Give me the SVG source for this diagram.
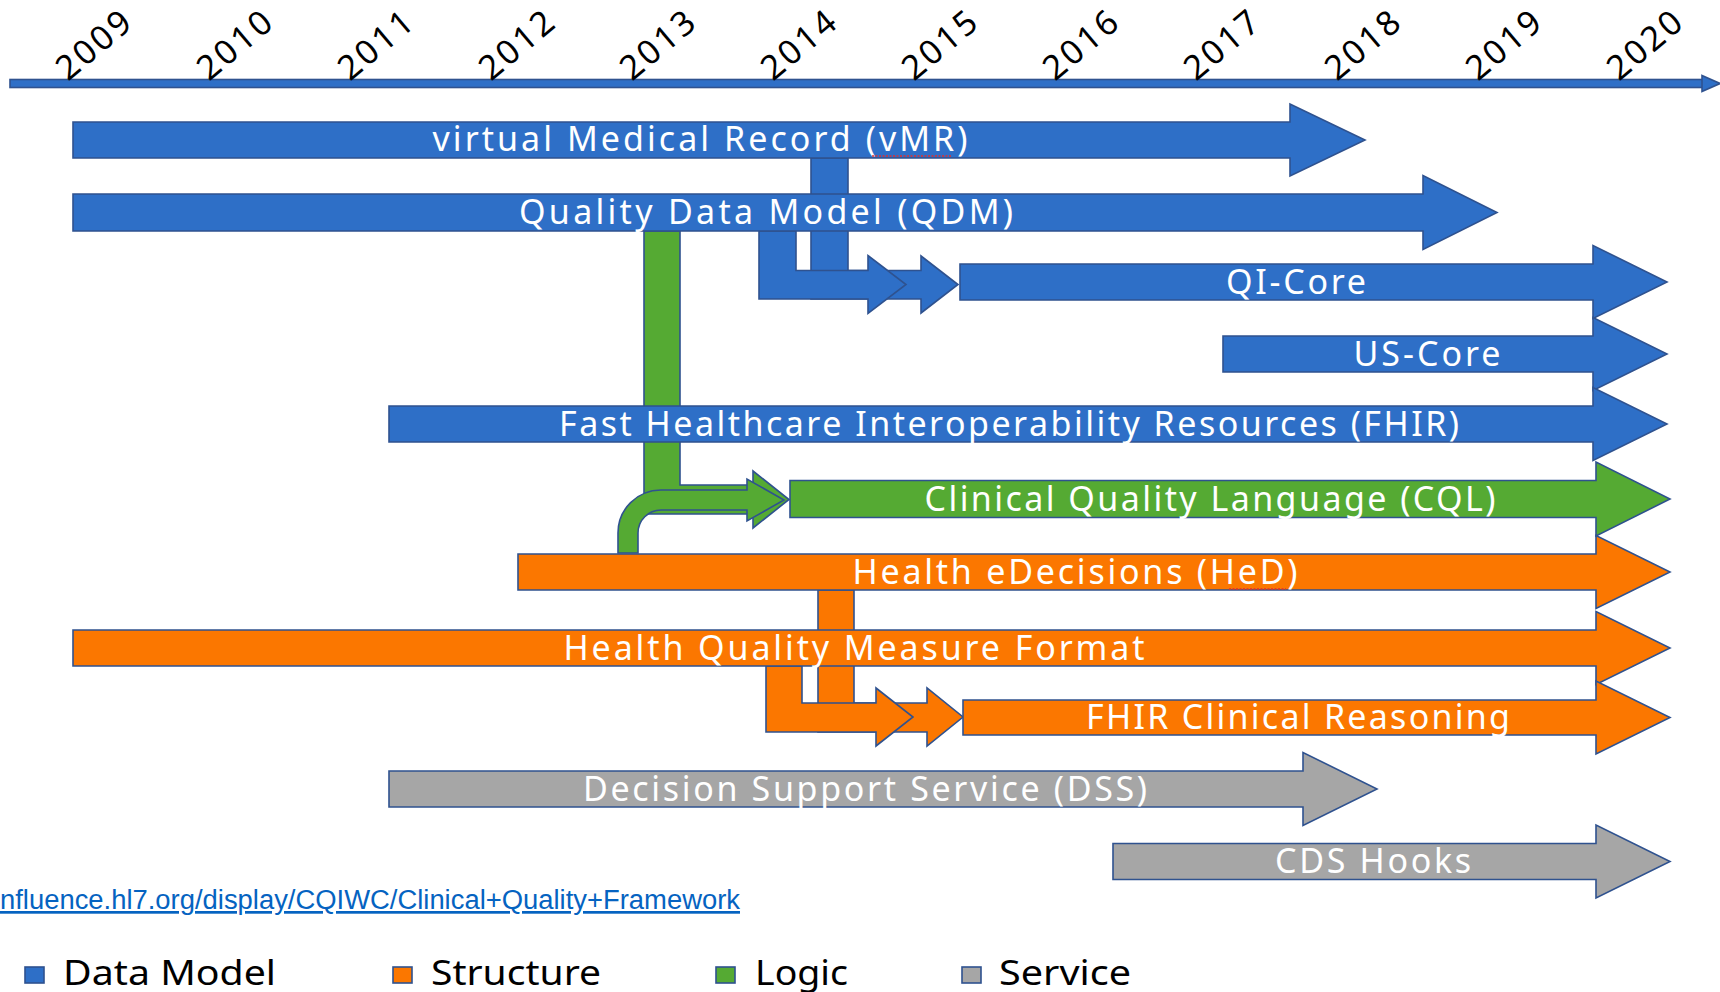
<svg xmlns="http://www.w3.org/2000/svg" width="1720" height="992" viewBox="0 0 1720 992">
<style>
.bl{fill:#2E6FC7;stroke:#2F528F;stroke-width:1.6}
.or{fill:#FB7700;stroke:#2F528F;stroke-width:1.6}
.gr{fill:#55AA33;stroke:#2F528F;stroke-width:1.6}
.gy{fill:#A6A6A6;stroke:#2F528F;stroke-width:1.6}
.lbl{font-family:"Noto Sans","Open Sans","Liberation Sans",sans-serif;font-size:34px;fill:#FFFFFF;text-anchor:middle}
.yr{font-family:"Noto Sans","Liberation Sans",Arial,sans-serif;font-size:34px;fill:#000000;text-anchor:middle}
.leg{font-family:"Liberation Sans Narrow","Noto Sans","Liberation Sans",sans-serif;font-size:35px;fill:#000000}
.link{font-family:"Liberation Sans Narrow","Liberation Sans",sans-serif;font-size:27px;fill:#0563C1;text-decoration:underline}
.spell{stroke:#E03030;stroke-width:1.5;stroke-dasharray:2 1.5;fill:none}
</style>

<g id="timeline">
  <rect x="10" y="79.5" width="1693" height="8" class="bl"/>
  <polygon points="1702,75.5 1720,83.5 1702,91.5" class="bl"/>
  <g class="yr">
    <text transform="translate(101,54) rotate(-40)" textLength="86">2009</text>
    <text transform="translate(242,54) rotate(-40)" textLength="86">2010</text>
    <text transform="translate(383,54) rotate(-40)" textLength="86">2011</text>
    <text transform="translate(524,54) rotate(-40)" textLength="86">2012</text>
    <text transform="translate(665,54) rotate(-40)" textLength="86">2013</text>
    <text transform="translate(806,54) rotate(-40)" textLength="86">2014</text>
    <text transform="translate(947,54) rotate(-40)" textLength="86">2015</text>
    <text transform="translate(1088,54) rotate(-40)" textLength="86">2016</text>
    <text transform="translate(1229,54) rotate(-40)" textLength="86">2017</text>
    <text transform="translate(1370,54) rotate(-40)" textLength="86">2018</text>
    <text transform="translate(1511,54) rotate(-40)" textLength="86">2019</text>
    <text transform="translate(1652,54) rotate(-40)" textLength="86">2020</text>
  </g>
</g>

<g id="connectors">
  <polygon class="bl" points="811,158 848,158 848,270.5 921,270.5 921,256 958,284.5 921,313 921,299 811,299"/>
  <polygon class="bl" points="759,231 796,231 796,270.5 868,270.5 868,255.5 906,284.5 868,313.5 868,299 759,299"/>
  <polygon class="gr" points="644,231 680,231 680,485 753,485 753,471 789,499.5 753,528 753,514 644,514"/>
  <path class="gr" d="M618,553 L618,533 A43,43 0 0 1 661,490 L747,490 L747,479 L784,500 L747,521 L747,510 L661,510 A23,23 0 0 0 638,533 L638,553 Z"/>
  <polygon class="or" points="818,590 854,590 854,703 927,703 927,688 963,717 927,746 927,732 818,732"/>
  <polygon class="or" points="766,666 802,666 802,703 876,703 876,688 913,717 876,746 876,732 766,732"/>
</g>

<g id="vmr">
  <polygon class="bl" points="73,122 1290,122 1290,104 1365,140 1290,176 1290,158 73,158"/>
  <text class="lbl" x="700" y="151" textLength="535">virtual Medical Record (vMR)</text>
  <line class="spell" x1="872" y1="156" x2="952" y2="156"/>
</g>
<g id="qdm">
  <polygon class="bl" points="73,194 1423,194 1423,175.5 1497,212.5 1423,249.5 1423,231 73,231"/>
  <text class="lbl" x="766" y="224" textLength="494">Quality Data Model (QDM)</text>
</g>
<g id="qi-core">
  <polygon class="bl" points="960,264 1593,264 1593,245.5 1667,282 1593,318.5 1593,300 960,300"/>
  <text class="lbl" x="1296" y="294" textLength="140">QI-Core</text>
</g>
<g id="us-core">
  <polygon class="bl" points="1223,336 1593,336 1593,317.5 1667,354 1593,390.5 1593,372 1223,372"/>
  <text class="lbl" x="1427" y="366" textLength="147">US-Core</text>
</g>
<g id="fhir">
  <polygon class="bl" points="389,406 1593,406 1593,387.5 1667,424 1593,460.5 1593,442 389,442"/>
  <text class="lbl" x="1009" y="436" textLength="900">Fast Healthcare Interoperability Resources (FHIR)</text>
</g>
<g id="cql">
  <polygon class="gr" points="790,480.5 1596,480.5 1596,462 1670,499 1596,536 1596,517.5 790,517.5"/>
  <text class="lbl" x="1210" y="511" textLength="571">Clinical Quality Language (CQL)</text>
</g>
<g id="hed">
  <polygon class="or" points="518,554 1596,554 1596,535.5 1670,572 1596,608.5 1596,590 518,590"/>
  <text class="lbl" x="1075" y="584" textLength="445">Health eDecisions (HeD)</text>
  <line class="spell" x1="1229" y1="589" x2="1286" y2="589"/>
</g>
<g id="hqmf">
  <polygon class="or" points="73,630 1596,630 1596,611.5 1670,648 1596,684.5 1596,666 73,666"/>
  <text class="lbl" x="854" y="660" textLength="581">Health Quality Measure Format</text>
</g>
<g id="fhir-cr">
  <polygon class="or" points="963,700 1596,700 1596,681 1670,717.5 1596,754 1596,735 963,735"/>
  <text class="lbl" x="1298" y="729" textLength="424">FHIR Clinical Reasoning</text>
</g>
<g id="dss">
  <polygon class="gy" points="389,771 1303,771 1303,752.5 1377,789 1303,825.5 1303,807 389,807"/>
  <text class="lbl" x="865" y="801" textLength="564">Decision Support Service (DSS)</text>
</g>
<g id="cds-hooks">
  <polygon class="gy" points="1113,843.5 1596,843.5 1596,825 1670,861.5 1596,898 1596,879.5 1113,879.5"/>
  <text class="lbl" x="1373" y="873" textLength="196">CDS Hooks</text>
</g>

<g id="link">
  <text class="link" x="0" y="909" textLength="740" lengthAdjust="spacingAndGlyphs">nfluence.hl7.org/display/CQIWC/Clinical+Quality+Framework</text>
</g>

<g id="legend">
  <g id="legend-data-model">
    <rect x="25" y="967" width="19" height="16" class="bl"/>
    <text class="leg" x="63" y="985" textLength="213" lengthAdjust="spacingAndGlyphs">Data Model</text>
  </g>
  <g id="legend-structure">
    <rect x="393" y="967" width="19" height="16" class="or"/>
    <text class="leg" x="431" y="985" textLength="170" lengthAdjust="spacingAndGlyphs">Structure</text>
  </g>
  <g id="legend-logic">
    <rect x="716" y="967" width="19" height="16" class="gr"/>
    <text class="leg" x="755" y="985" textLength="93" lengthAdjust="spacingAndGlyphs">Logic</text>
  </g>
  <g id="legend-service">
    <rect x="962" y="967" width="19" height="16" class="gy"/>
    <text class="leg" x="999" y="985" textLength="132" lengthAdjust="spacingAndGlyphs">Service</text>
  </g>
</g>
</svg>
